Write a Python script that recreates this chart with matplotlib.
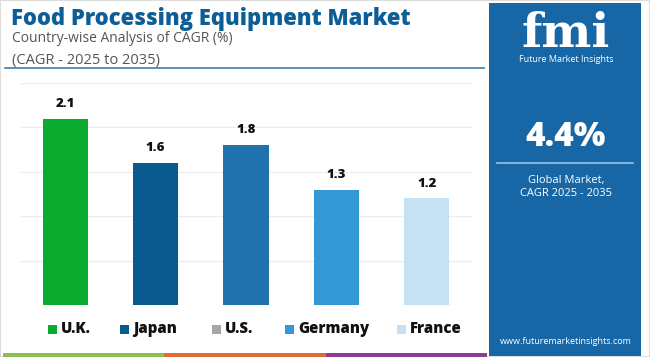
import matplotlib.pyplot as plt
from matplotlib.patches import Rectangle
from matplotlib.lines import Line2D

countries = ['U.K.', 'Japan', 'U.S.', 'Germany', 'France']
cagr = [2.1, 1.6, 1.8, 1.3, 1.2]
bar_colors = ['#0aab2e', '#0a5a8f', '#1f72ad', '#3497d6', '#c5e1f3']
legend_colors = ['#0aab2e', '#0a5a8f', '#a6a6a6', '#3497d6', '#c5e1f3']
yticks = [0, 0.5, 1.0, 1.5, 2.0, 2.5]

W, H = 650, 357
fig = plt.figure(figsize=(W / 100, H / 100), dpi=100)
plt.rcParams['font.family'] = ['Open Sans', 'DejaVu Sans']


def fx(px):
    return px / W


def fy(py):
    return 1 - py / H


# outer border
fig.add_artist(Rectangle((0, 0), 1, 1, transform=fig.transFigure, fill=False,
                         edgecolor='#dddddd', linewidth=1.5))

# titles
fig.text(fx(11), fy(25), 'Food Processing Equipment Market', fontsize=15.8,
         fontweight='heavy', color='#0d5e96', ha='left', va='baseline')
fig.text(fx(12), fy(42), 'Country-wise Analysis of CAGR (%)', fontsize=10,
         color='#555555', ha='left', va='baseline')
fig.text(fx(12), fy(64), '(CAGR - 2025 to 2035)', fontsize=10.5,
         color='#555555', ha='left', va='baseline')
fig.add_artist(Line2D([fx(5), fx(484)], [fy(68), fy(68)], transform=fig.transFigure,
                      color='#3d7eae', linewidth=1.2))

# bar chart
ax = fig.add_axes([fx(20), fy(305), fx(452), (305 - 83) / H])
x = range(len(countries))
ax.bar(x, cagr, width=0.5, color=bar_colors, zorder=3)
for xi, v in zip(x, cagr):
    ax.text(xi, v + 0.1, f'{v}', ha='center', va='bottom', fontsize=9.5,
            fontweight='heavy', color='#111111')
ax.set_xlim(-0.5, len(countries) - 0.5)
ax.set_ylim(0, 2.5)
ax.set_yticks(yticks)
ax.set_xticks([])
ax.tick_params(left=False, labelleft=False)
ax.grid(axis='y', color='#ececec', linewidth=0.9, zorder=0)
for s in ax.spines.values():
    s.set_visible(False)

# legend
leg_x = [48, 120, 212, 285, 397]
for lx, c, name in zip(leg_x, legend_colors, countries):
    fig.add_artist(Rectangle((fx(lx), fy(334)), fx(9), 9 / H, transform=fig.transFigure,
                             facecolor=c, edgecolor='none'))
    fig.text(fx(lx + 13), fy(329), name, fontsize=10.8, fontweight='heavy',
             color='#111111', ha='left', va='center')

# bottom stripe
for x0, x1, c in [(3, 164, '#8cc152'), (164, 326, '#e0693a'), (326, 487, '#8e3a96')]:
    fig.add_artist(Rectangle((fx(x0), fy(357)), fx(x1 - x0), 4 / H, transform=fig.transFigure,
                             facecolor=c, edgecolor='none'))

# right panel
panel = '#1767a7'
fig.add_artist(Rectangle((fx(489), fy(356)), fx(641 - 489), 353 / H, transform=fig.transFigure,
                         facecolor=panel, edgecolor='none'))
cx = fx(566)
fig.text(cx, fy(34), 'fmi', fontsize=34, fontweight='bold', color='white',
         ha='center', va='center', family=['DejaVu Serif'])
fig.text(cx, fy(60), 'Future Market Insights', fontsize=6.5, color='white',
         ha='center', va='center')
fig.text(cx, fy(137), '4.4%', fontsize=24, fontweight='heavy', color='white',
         ha='center', va='center')
fig.add_artist(Line2D([fx(497), fx(633)], [fy(163), fy(163)], transform=fig.transFigure,
                      color='#9cc3e3', linewidth=1.2))
fig.text(cx, fy(180), 'Global Market,', fontsize=8, color='white', ha='center', va='center')
fig.text(cx, fy(194), 'CAGR 2025 - 2035', fontsize=8, color='white', ha='center', va='center')
fig.text(cx, fy(342), 'www.futuremarketinsights.com', fontsize=6.5, color='white',
         ha='center', va='center')

fig.savefig('out.png', dpi=100)
